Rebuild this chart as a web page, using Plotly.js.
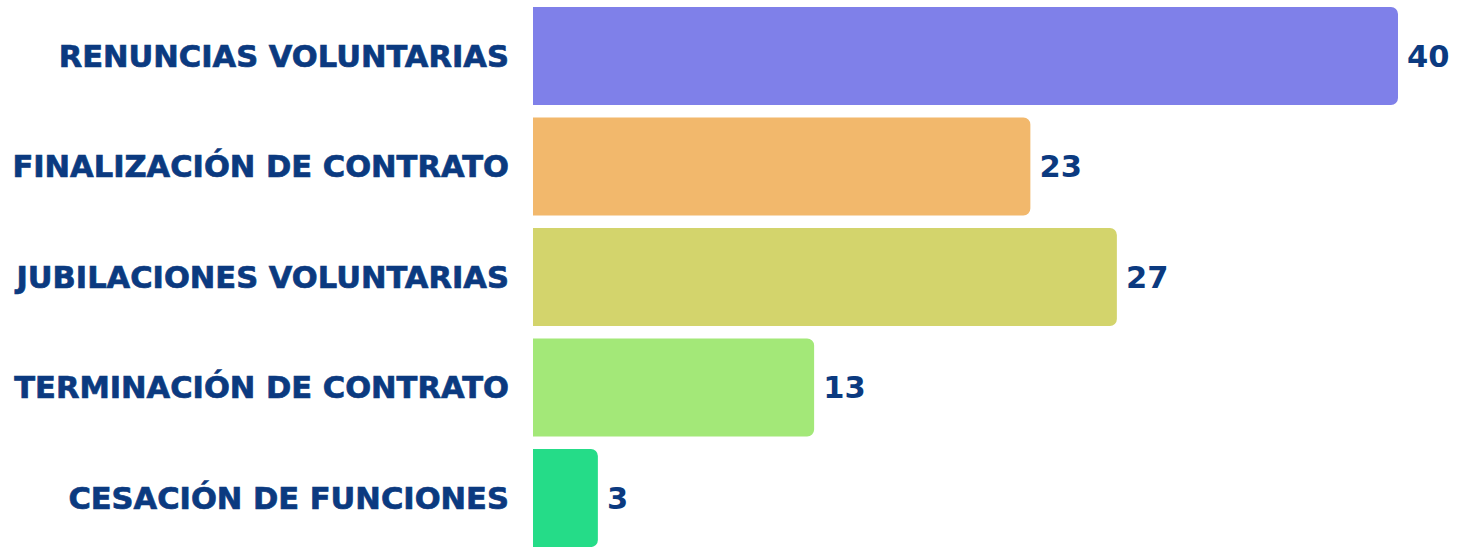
<!DOCTYPE html>
<html><head><meta charset="utf-8">
<script src="https://cdn.plot.ly/plotly-3.0.1.min.js"></script>
<style>html,body{margin:0;padding:0;background:#fff;}#chart{width:1470px;height:547px;}
#chart .ytick text, #chart .textpoint text{stroke:#0b3a80;stroke-width:0.7px;}</style>
</head><body><div id="chart"></div>
<script>
const categories = ["RENUNCIAS VOLUNTARIAS","FINALIZACIÓN DE CONTRATO","JUBILACIONES VOLUNTARIAS","TERMINACIÓN DE CONTRATO","CESACIÓN DE FUNCIONES"];
const values = [40, 23, 27, 13, 3];
const colors = ["#7f80e9","#f2b86c","#d3d46c","#a3e878","#25dc88"];
const textColor = "#0b3a80";
const fontFam = "'DejaVu Sans', sans-serif";

Plotly.newPlot("chart", [{
  type: "bar", orientation: "h",
  x: values, y: categories,
  marker: {color: colors, cornerradius: 7},
  text: values.map(v => "\u2009" + v),
  textposition: "outside",
  cliponaxis: false,
  textfont: {family: fontFam, size: 30.5, color: textColor, weight: 700},
  hoverinfo: "none"
}], {
  width: 1470, height: 547,
  margin: {l: 533, r: 0, t: 0, b: 0},
  paper_bgcolor: "#fff", plot_bgcolor: "#fff",
  bargap: 0.113,
  showlegend: false,
  xaxis: {range: [0, 43.33], visible: false, fixedrange: true},
  yaxis: {type: "category", range: [4.443, -0.507], showgrid: false, zeroline: false, showline: false,
          ticks: "outside", ticklen: 17, tickcolor: "rgba(0,0,0,0)",
          tickfont: {family: fontFam, size: 30.5, color: textColor, weight: 700}, automargin: false}
}, {staticPlot: true});
</script></body></html>
